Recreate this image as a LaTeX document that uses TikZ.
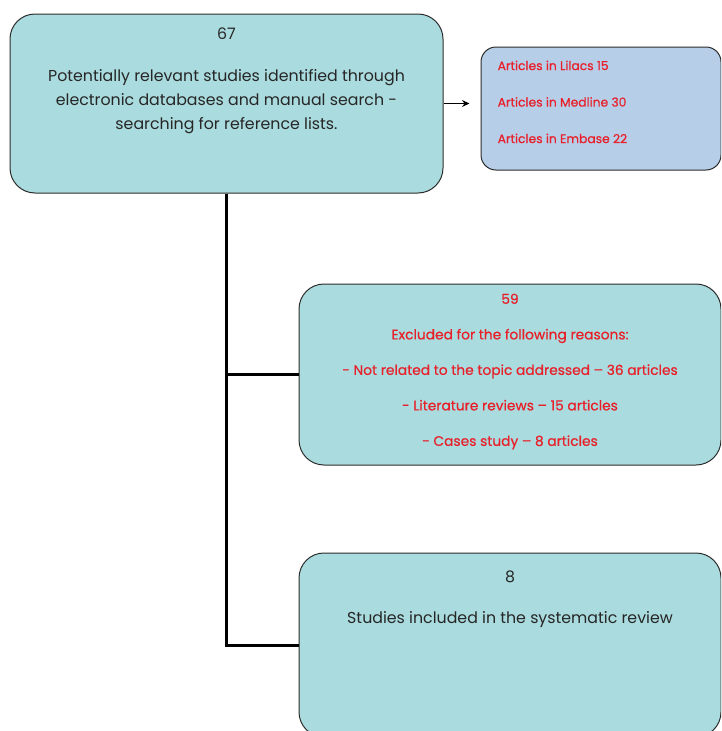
\documentclass[tikz,border=0pt]{standalone}
\usepackage{fontspec}
\setmainfont{Poppins}
\newfontfamily\redfont[FakeBold=0.6, Ligatures=TeX]{Poppins}
\usepackage{xcolor}
\usetikzlibrary{arrows.meta, positioning}

\definecolor{tealfill}{RGB}{170,219,222}
\definecolor{bluefill}{RGB}{183,206,233}
\definecolor{boxline}{RGB}{45,45,45}
\definecolor{redtext}{RGB}{232,32,42}

\begin{document}
\begin{tikzpicture}[
    x=1pt, y=-1pt,
    >={Stealth[length=2.6mm, width=2.4mm]},
    % Teal process boxes
    box/.style={
        rectangle, rounded corners=25pt, draw=boxline, line width=1pt,
        fill=tealfill, inner sep=0pt
    },
    % Blue source box
    srcbox/.style={
        rectangle, rounded corners=15pt, draw=boxline, line width=1pt,
        fill=bluefill, inner sep=0pt
    },
    % Black box text
    txt/.style={
        font=\fontsize{15.8}{24}\selectfont, text=black!85, align=center,
        anchor=north, inner sep=0pt
    },
    % Red box text
    redtxt/.style={
        font=\redfont\fontsize{13.8}{35.5}\selectfont, text=redtext, align=center,
        anchor=north, inner sep=0pt
    },
    % Trunk lines
    trunk/.style={line width=3pt, black},
    arr/.style={->, line width=1.3pt, black},
]
\clip (0,0) rectangle (721,731);
\fill[white] (0,0) rectangle (721,731);

% ===== SEARCH =====
\node[box, minimum width=433pt, minimum height=179pt] (search) at (226.5,103.5) {};
\node[txt, below=14pt of search.north] (search_txt)
    {67\\[18pt]
     Potentially relevant studies identified through\\
     electronic databases and manual search -\\
     searching for reference lists.};

% ===== DATABASES =====
\node[srcbox, minimum width=240pt, minimum height=123pt] (sources) at (601,108.5) {};
\node[redtxt, align=left, anchor=north west, font=\redfont\fontsize{12.3}{36.5}\selectfont]
    (sources_txt) at ([xshift=17pt, yshift=-14pt]sources.north west)
    {Articles in Lilacs 15\\
     Articles in Medline 30\\
     Articles in Embase 22};

\draw[arr, shorten >=11pt] (search.east) -- (search.east -| sources.west);

% ===== EXCLUDED =====
\node[box, minimum width=422pt, minimum height=181pt] (excluded) at (510,374.5) {};
\node[redtxt, below=10pt of excluded.north] (excluded_txt)
    {59\\
     Excluded for the following reasons:\\
     - Not related to the topic addressed -- 36 articles\\
     - Literature reviews -- 15 articles\\
     - Cases study -- 8 articles};

% ===== INCLUDED =====
\node[box, minimum width=422pt, minimum height=184pt] (included) at (510,645) {};
\node[txt, below=18pt of included.north] (included_txt)
    {8\\[17pt]
     Studies included in the systematic review};

% Trunk and branches
\draw[trunk] (search.south) |- (excluded.west);
\draw[trunk] (search.south) |- (included.west);

\end{tikzpicture}
\end{document}
